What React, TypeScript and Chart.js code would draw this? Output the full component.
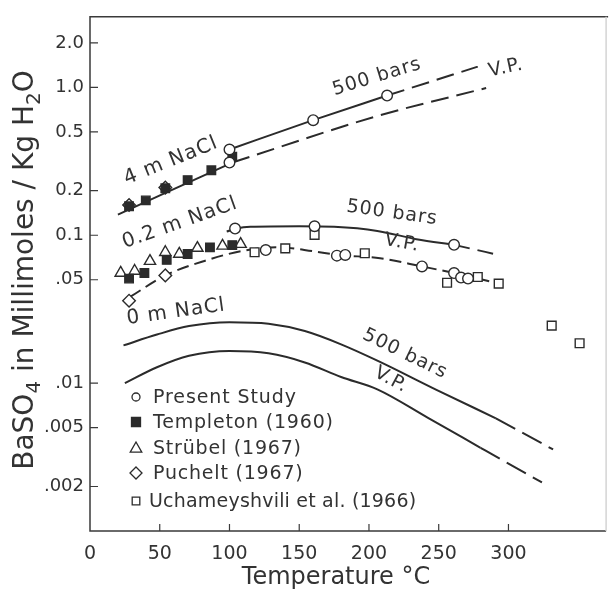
import React, { useEffect, useRef } from 'react';
import { Chart, registerables } from 'chart.js';

Chart.register(...registerables);

// ---------- axis ticks ----------
const xTickValues = [0, 50, 100, 150, 200, 250, 300];
const yTickValues = [2, 1, 0.5, 0.2, 0.1, 0.05, 0.01, 0.005, 0.002];
const yTickLabels = ['2.0', '1.0', '0.5', '0.2', '0.1', '.05', '.01', '.005', '.002'];

// ---------- curves (temperature °C, BaSO4 mmol/kg) ----------
const m4Bars500Temp = [100, 160, 213];
const m4Bars500Sol = [0.38, 0.6, 0.88];
const m4Bars500ExtTemp = [213, 278];
const m4Bars500ExtSol = [0.88, 1.38];
const m4VpTemp = [20, 102];
const m4VpSol = [0.138, 0.31];
const m4VpExtTemp = [102, 206, 284];
const m4VpExtSol = [0.31, 0.64, 0.99];

const m02Bars500Temp = [98, 105, 115, 150, 175, 206, 234, 261];
const m02Bars500Sol = [0.106, 0.111, 0.114, 0.115, 0.114, 0.107, 0.094, 0.0861];
const m02Bars500ExtTemp = [261, 293];
const m02Bars500ExtSol = [0.0861, 0.0736];
const m02VpTemp = [29, 54, 82, 110, 135, 160, 178, 208, 238, 261, 291];
const m02VpSol = [0.0384, 0.0535, 0.067, 0.0786, 0.0828, 0.078, 0.0735, 0.07, 0.0615, 0.0555, 0.0477];

const m0Bars500Temp = [24, 48, 71, 100, 128, 154, 180, 206, 248, 291];
const m0Bars500Sol = [0.018, 0.0213, 0.0243, 0.0258, 0.0252, 0.0225, 0.0183, 0.0142, 0.00905, 0.00578];
const m0Bars500ExtTemp = [291, 332];
const m0Bars500ExtSol = [0.00578, 0.00356];
const m0VpTemp = [25, 48, 71, 100, 128, 154, 180, 206, 242, 280];
const m0VpSol = [0.01, 0.0128, 0.0153, 0.0165, 0.0159, 0.0138, 0.011, 0.00908, 0.00585, 0.00365];
const m0VpExtTemp = [280, 324];
const m0VpExtSol = [0.00365, 0.00213];

// ---------- measured points ----------
const presentTemp = [100, 100, 160, 213, 104, 161, 261, 126, 177, 183, 238, 261, 266, 271];
const presentSol = [0.38, 0.31, 0.6, 0.88, 0.111, 0.115, 0.0861, 0.0794, 0.0728, 0.0736, 0.0615, 0.0555, 0.0517, 0.0509];

const templetonTemp = [28, 40, 54, 70, 87, 102, 28, 39, 55, 70, 86, 102];
const templetonSol = [0.157, 0.172, 0.208, 0.236, 0.275, 0.34, 0.0509, 0.0556, 0.0681, 0.0747, 0.0828, 0.0858];

const strubelTemp = [22, 32, 43, 54, 64, 77, 95, 108];
const strubelSol = [0.0556, 0.0573, 0.0668, 0.0767, 0.0747, 0.0819, 0.0848, 0.0871];

const pucheltTemp = [28, 54, 28, 54];
const pucheltSol = [0.16, 0.21, 0.0361, 0.0535];

const uchamTemp = [118, 140, 161, 197, 256, 278, 293, 331, 351];
const uchamSol = [0.0767, 0.0815, 0.1005, 0.0755, 0.0477, 0.0522, 0.0471, 0.0245, 0.0186];

const legendLabels = ['Present Study', 'Templeton (1960)', 'Strübel (1967)', 'Puchelt (1967)', 'Uchameyshvili et al. (1966)'];

const INK = '#2b2b2b';
const TEXT = '#333333';
const FONT = '"DejaVu Sans", sans-serif';

const pts = (xs: number[], ys: number[]) => xs.map((x, i) => ({ x, y: ys[i] }));

function curve(xs: number[], ys: number[], dash: number[] = []) {
  return {
    type: 'line' as const,
    data: pts(xs, ys),
    borderColor: INK,
    borderWidth: 2,
    borderDash: dash,
    pointRadius: 0,
    pointHoverRadius: 0,
    fill: false,
    cubicInterpolationMode: 'monotone' as const,
  };
}

function markers(xs: number[], ys: number[], style: string, radius: number, filled: boolean) {
  return {
    type: 'line' as const,
    data: pts(xs, ys),
    showLine: false,
    pointStyle: style,
    pointRadius: radius,
    pointHoverRadius: radius,
    pointBorderWidth: 1.4,
    pointBorderColor: INK,
    pointBackgroundColor: filled ? INK : '#ffffff',
  };
}

function drawSymbol(ctx: CanvasRenderingContext2D, style: string, x: number, y: number, r: number, filled: boolean) {
  ctx.beginPath();
  if (style === 'circle') {
    ctx.arc(x, y, r, 0, Math.PI * 2);
  } else if (style === 'rect') {
    ctx.rect(x - r, y - r, 2 * r, 2 * r);
  } else if (style === 'triangle') {
    ctx.moveTo(x, y - r * 1.1);
    ctx.lineTo(x + r * 1.05, y + r * 0.75);
    ctx.lineTo(x - r * 1.05, y + r * 0.75);
    ctx.closePath();
  } else if (style === 'diamond') {
    ctx.moveTo(x, y - r);
    ctx.lineTo(x + r, y);
    ctx.lineTo(x, y + r);
    ctx.lineTo(x - r, y);
    ctx.closePath();
  }
  ctx.fillStyle = filled ? INK : '#fff';
  ctx.fill();
  ctx.lineWidth = 1.3;
  ctx.strokeStyle = INK;
  ctx.stroke();
}

const decorPlugin = {
  id: 'decor',
  afterDraw(chart: any) {
    const ctx: any = chart.ctx;
    const { left, right, top, bottom } = chart.chartArea;
    const xs = chart.scales.x;
    const ys = chart.scales.y;
    ctx.save();

    // frame
    ctx.lineWidth = 1.5;
    ctx.strokeStyle = '#3a3a3a';
    ctx.beginPath();
    ctx.moveTo(right + 2, top);
    ctx.lineTo(left, top);
    ctx.lineTo(left, bottom);
    ctx.lineTo(right, bottom);
    ctx.stroke();
    ctx.strokeStyle = '#d4d4d4';
    ctx.beginPath();
    ctx.moveTo(right, top);
    ctx.lineTo(right, bottom);
    ctx.stroke();

    // inward tick marks
    ctx.strokeStyle = '#3a3a3a';
    ctx.lineWidth = 1.2;
    ctx.beginPath();
    ys.ticks.forEach((t: any) => {
      const p = ys.getPixelForValue(t.value);
      ctx.moveTo(left, p);
      ctx.lineTo(left + 8, p);
    });
    xs.ticks.forEach((t: any) => {
      if (t.value === 0) return;
      const p = xs.getPixelForValue(t.value);
      ctx.moveTo(p, bottom);
      ctx.lineTo(p, bottom - 7);
    });
    ctx.stroke();

    // curve annotations
    ctx.fillStyle = TEXT;
    ctx.textAlign = 'center';
    ctx.textBaseline = 'middle';
    ctx.letterSpacing = '1px';
    const notes: [string, number, number, number, number][] = [
      ['4 m NaCl', 171, 161, -22, 20],
      ['0.2 m NaCl', 180, 223, -19.5, 20],
      ['0 m NaCl', 176, 312, -8, 20],
      ['500 bars', 377, 77, -17, 19],
      ['V.P.', 506, 68, -12, 19],
      ['500 bars', 392, 213, 8, 19],
      ['V.P.', 402, 243, 10, 19],
      ['500 bars', 405, 354, 26, 19],
      ['V.P.', 391, 380, 28, 19],
    ];
    notes.forEach(([txt, x, y, ang, size]) => {
      ctx.save();
      ctx.translate(x, y);
      ctx.rotate((ang * Math.PI) / 180);
      ctx.font = `${size}px ${FONT}`;
      ctx.fillText(txt, 0, 0);
      ctx.restore();
    });

    // legend
    const legendStyles: [string, number, boolean][] = [
      ['circle', 4, false],
      ['rect', 4.5, true],
      ['triangle', 5.5, false],
      ['diamond', 6, false],
      ['rect', 3.8, false],
    ];
    const legendY = [397, 422, 448, 473, 501];
    const legendSpacing = ['0.9px', '0.8px', '0.8px', '0.8px', '0.2px'];
    ctx.textAlign = 'left';
    ctx.font = `19px ${FONT}`;
    legendLabels.forEach((lab, i) => {
      const [st, r, f] = legendStyles[i];
      drawSymbol(ctx, st, 136, legendY[i], r, f);
      ctx.fillStyle = TEXT;
      ctx.letterSpacing = legendSpacing[i];
      ctx.fillText(lab, i === 4 ? 149 : 153, legendY[i] + 1);
    });
    ctx.letterSpacing = '0px';

    // x-axis title
    ctx.textAlign = 'center';
    ctx.font = `24px ${FONT}`;
    ctx.fillText('Temperature °C', 336, 578);

    // y-axis title with subscripts
    const parts: [string, boolean][] = [
      ['BaSO', false],
      ['4', true],
      [' in Millimoles / Kg H', false],
      ['2', true],
      ['O', false],
    ];
    const big = `28px ${FONT}`;
    const small = `20px ${FONT}`;
    let total = 0;
    parts.forEach(([t, sub]) => {
      ctx.font = sub ? small : big;
      total += ctx.measureText(t).width;
    });
    ctx.save();
    ctx.translate(26, 270);
    ctx.rotate(-Math.PI / 2);
    ctx.textAlign = 'left';
    ctx.textBaseline = 'middle';
    let cx = -total / 2;
    parts.forEach(([t, sub]) => {
      ctx.font = sub ? small : big;
      ctx.fillText(t, cx, sub ? 9 : 0);
      cx += ctx.measureText(t).width;
    });
    ctx.restore();

    ctx.restore();
  },
};

export default function App() {
  const canvasRef = useRef<HTMLCanvasElement | null>(null);

  useEffect(() => {
    if (!canvasRef.current) return;
    const chart = new Chart(canvasRef.current, {
      type: 'line',
      data: {
        datasets: [
          markers(presentTemp, presentSol, 'circle', 5.3, false),
          markers(templetonTemp, templetonSol, 'rect', 6, true),
          markers(strubelTemp, strubelSol, 'triangle', 6.5, false),
          markers(pucheltTemp, pucheltSol, 'rectRot', 6.3, false),
          markers(uchamTemp, uchamSol, 'rect', 6.2, false),
          curve(m4Bars500Temp, m4Bars500Sol),
          curve(m4Bars500ExtTemp, m4Bars500ExtSol, [18, 8]),
          curve(m4VpTemp, m4VpSol),
          curve(m4VpExtTemp, m4VpExtSol, [18, 8]),
          curve(m02Bars500Temp, m02Bars500Sol),
          curve(m02Bars500ExtTemp, m02Bars500ExtSol, [16, 8]),
          curve(m02VpTemp, m02VpSol, [12, 6]),
          curve(m0Bars500Temp, m0Bars500Sol),
          curve(m0Bars500ExtTemp, m0Bars500ExtSol, [22, 8]),
          curve(m0VpTemp, m0VpSol),
          curve(m0VpExtTemp, m0VpExtSol, [22, 8]),
        ] as any,
      },
      options: {
        responsive: false,
        animation: false,
        devicePixelRatio: 1,
        layout: { padding: { top: 10, right: 2, left: 0, bottom: 0 } },
        plugins: { legend: { display: false }, tooltip: { enabled: false } },
        events: [],
        scales: {
          x: {
            type: 'linear',
            min: 0,
            max: 370,
            grid: { display: false, drawTicks: false },
            border: { display: false },
            afterBuildTicks: (scale: any) => {
              scale.ticks = xTickValues.map((v) => ({ value: v }));
            },
            afterFit: (scale: any) => {
              scale.height = 59;
            },
            ticks: {
              padding: 12,
              color: TEXT,
              font: { family: FONT, size: 19 },
              callback: (v: any) => String(v),
              maxRotation: 0,
              autoSkip: false,
            },
          },
          y: {
            type: 'logarithmic',
            min: 0.001,
            max: 3,
            grid: { display: false, drawTicks: false },
            border: { display: false },
            afterBuildTicks: (scale: any) => {
              scale.ticks = yTickValues.map((v) => ({ value: v }));
            },
            afterFit: (scale: any) => {
              scale.width = 90;
            },
            ticks: {
              padding: 6,
              color: TEXT,
              font: { family: FONT, size: 18 },
              autoSkip: false,
              callback: (v: any) => {
                const i = yTickValues.indexOf(Number(v));
                return i >= 0 ? yTickLabels[i] : '';
              },
            },
          },
        },
      } as any,
      plugins: [decorPlugin],
    });
    return () => chart.destroy();
  }, []);

  return (
    <div style={{ position: 'fixed', left: 0, top: 0, width: 614, height: 590, background: '#ffffff' }}>
      <canvas ref={canvasRef} width={614} height={590} style={{ display: 'block' }} />
    </div>
  );
}
